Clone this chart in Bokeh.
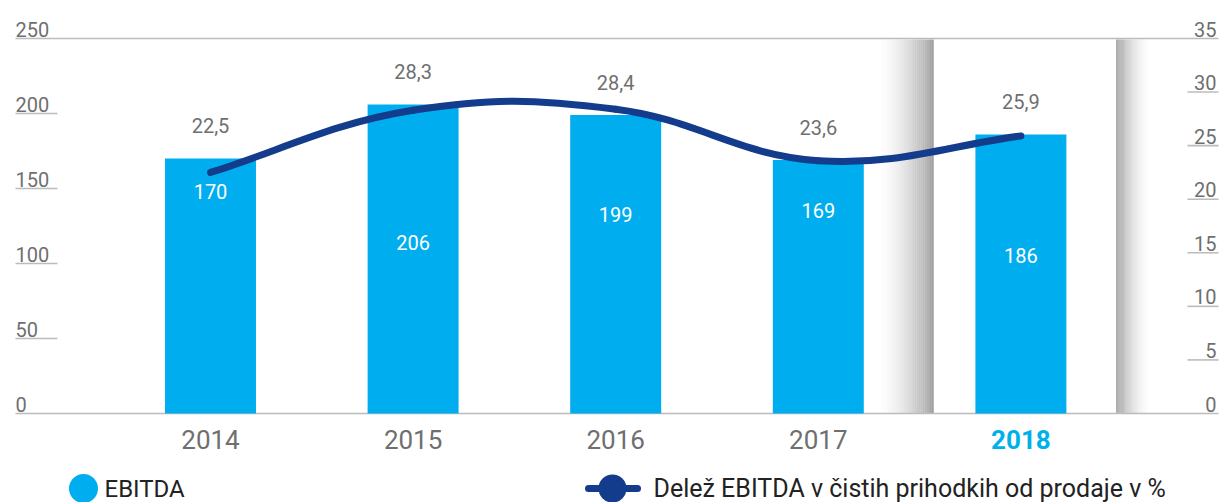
import numpy as np
from bokeh.plotting import figure
from bokeh.models import Range1d, ColumnDataSource
from bokeh.core.properties import value
from bokeh.embed import file_html
from bokeh.resources import INLINE

# ---------------- data ----------------
years = ["2014", "2015", "2016", "2017", "2018"]
ebitda = [170, 206, 199, 169, 186]
share = [22.5, 28.3, 28.4, 23.6, 25.9]
left_ticks = [0, 50, 100, 150, 200, 250]
right_ticks = [0, 5, 10, 15, 20, 25, 30, 35]
legend_labels = ["EBITDA", "Delež EBITDA v čistih prihodkih od prodaje v %"]

# ---------------- style / layout ----------------
W, H = 1219, 502
FONT = value("Roboto")
BAR_C = "#00aeef"
LINE_C = "#143c8c"
GRAY_T = "#6f6f6f"
GRID_C = "#bcbcbc"
HILITE_C = "#00b0ea"
inner_offsets = [33, 138, 99, 50, 121]   # px below bar top for value labels

PX_CAT = 202.6      # px per category
X0_PX = 210.0       # px of first category centre
BASE_PX = 413.0     # px of zero line
TOP_PX = 38.0       # px of top grid line
L_MAX, R_MAX = 250, 35
l_per = (BASE_PX - TOP_PX) / L_MAX
r_per = (BASE_PX - TOP_PX) / R_MAX
x_start = -X0_PX / PX_CAT
x_end = x_start + W / PX_CAT
y_start = -(H - BASE_PX) / l_per
y_end = L_MAX + TOP_PX / l_per
ry_start = -(H - BASE_PX) / r_per
ry_end = R_MAX + TOP_PX / r_per


def px2x(px):
    return x_start + px / PX_CAT


def py2y(py):
    return (BASE_PX - py) / l_per


xs = list(range(len(years)))

p = figure(width=W, height=H, x_range=Range1d(x_start, x_end),
           y_range=Range1d(y_start, y_end), x_axis_type=None, y_axis_type=None,
           toolbar_location=None, output_backend="svg", min_border=0,
           outline_line_color=None, background_fill_color="white",
           border_fill_color="white")
p.extra_y_ranges = {"pct": Range1d(ry_start, ry_end)}
p.xgrid.visible = False
p.ygrid.visible = False

# ---------------- highlight column for last year (shadow strips) ----------------
hx = xs[-1]
half_l, half_r = 0.43, 0.47
n = 30
lw_g, rw_g = 0.28, 0.17
lefts, rights, alphas = [], [], []
for k in range(n):
    t0, t1 = k / n, (k + 1) / n
    a = 0.72 * ((k + 1) / n) ** 1.8
    lefts.append(hx - half_l - lw_g + t0 * lw_g)
    rights.append(hx - half_l - lw_g + t1 * lw_g)
    alphas.append(a)
    lefts.append(hx + half_r + rw_g - t1 * rw_g)
    rights.append(hx + half_r + rw_g - t0 * rw_g)
    alphas.append(a)
p.quad(left=lefts, right=rights, bottom=0, top=L_MAX - 0.6,
       fill_color="#7d7d7d", fill_alpha=alphas, line_color=None)

# ---------------- axis lines and ticks ----------------
gx0, gx1 = px2x(15), px2x(W - 1)
p.segment(x0=[gx0, gx0], y0=[0, L_MAX], x1=[gx1, gx1], y1=[0, L_MAX],
          line_color=GRID_C, line_width=1.6)
mid_l = [t for t in left_ticks if 0 < t < L_MAX]
p.segment(x0=[gx0] * len(mid_l), y0=mid_l, x1=[px2x(57)] * len(mid_l), y1=mid_l,
          line_color=GRID_C, line_width=1.6)
mid_r = [t for t in right_ticks if 0 < t < R_MAX]
p.segment(x0=[px2x(W - 32)] * len(mid_r), y0=mid_r, x1=[gx1] * len(mid_r), y1=mid_r,
          line_color=GRID_C, line_width=1.6, y_range_name="pct")

p.text(x=[gx0] * len(left_ticks), y=left_ticks, text=[str(t) for t in left_ticks],
       text_font=FONT, text_font_size="20px", text_color=GRAY_T,
       text_align="left", text_baseline="bottom", y_offset=-2)
p.text(x=[px2x(W - 3)] * len(right_ticks), y=right_ticks,
       text=[str(t) for t in right_ticks],
       text_font=FONT, text_font_size="20px", text_color=GRAY_T,
       text_align="right", text_baseline="bottom", y_offset=-2, y_range_name="pct")

# ---------------- bars ----------------
p.vbar(x=xs, top=ebitda, bottom=0, width=0.449, fill_color=BAR_C, line_color=None)

# ---------------- smooth line (cubic Bezier through the data points) ----------------
k = 1.0 / 5.0
ys = share
cx_r, cy_r, cx_l, cy_l = [], [], [], []
for i in range(len(xs)):
    if i == 0:
        tx, ty = (xs[1] - xs[0]) * 2, (ys[1] - ys[0]) * 2
        kk = 1.0 / 6.0
    elif i == len(xs) - 1:
        tx, ty = (xs[-1] - xs[-2]) * 2, (ys[-1] - ys[-2]) * 2
        kk = 1.0 / 6.0
    else:
        tx, ty = xs[i + 1] - xs[i - 1], ys[i + 1] - ys[i - 1]
        kk = k
    cx_r.append(xs[i] + kk * tx)
    cy_r.append(ys[i] + kk * ty)
    cx_l.append(xs[i] - kk * tx)
    cy_l.append(ys[i] - kk * ty)
seg = ColumnDataSource(dict(
    x0=xs[:-1], y0=ys[:-1], x1=xs[1:], y1=ys[1:],
    cx0=cx_r[:-1], cy0=cy_r[:-1], cx1=cx_l[1:], cy1=cy_l[1:]))
p.bezier(x0="x0", y0="y0", x1="x1", y1="y1", cx0="cx0", cy0="cy0",
         cx1="cx1", cy1="cy1", source=seg, y_range_name="pct",
         line_color=LINE_C, line_width=7, line_cap="round")

# ---------------- value labels ----------------
p.text(x=xs, y=ebitda, text=[f"{v:.1f}".replace(".", ",") for v in share],
       text_font=FONT, text_font_size="20px", text_color=GRAY_T,
       text_align="center", text_baseline="middle", y_offset=-33)
p.text(x=xs, y=ebitda, text=[str(v) for v in ebitda], y_offset=inner_offsets,
       text_font=FONT, text_font_size="20px", text_color="white",
       text_align="center", text_baseline="middle")

# ---------------- category labels ----------------
ycol = [GRAY_T] * (len(years) - 1) + [HILITE_C]
ystyle = ["normal"] * (len(years) - 1) + ["bold"]
p.text(x=xs, y=[0] * len(xs), text=years, y_offset=26,
       text_font=FONT, text_font_size="26px", text_color=ycol,
       text_font_style=ystyle, text_align="center", text_baseline="middle")

# ---------------- legend ----------------
ly = py2y(488)
p.scatter(x=[px2x(83)], y=[ly], size=29, marker="circle",
          fill_color=BAR_C, line_color=None)
p.text(x=[px2x(104)], y=[ly], text=[legend_labels[0]], text_font=FONT,
       text_font_size="24px", text_color="#222222", text_align="left",
       text_baseline="middle")
p.segment(x0=[px2x(588)], y0=[ly], x1=[px2x(637)], y1=[ly],
          line_color=LINE_C, line_width=7, line_cap="round")
p.scatter(x=[px2x(612)], y=[ly], size=28, marker="circle",
          fill_color=LINE_C, line_color=None)
p.text(x=[px2x(653)], y=[ly], text=[legend_labels[1]], text_font=FONT,
       text_font_size="25px", text_color="#222222", text_align="left",
       text_baseline="middle")

open("out.html", "w").write(file_html(p, INLINE))
